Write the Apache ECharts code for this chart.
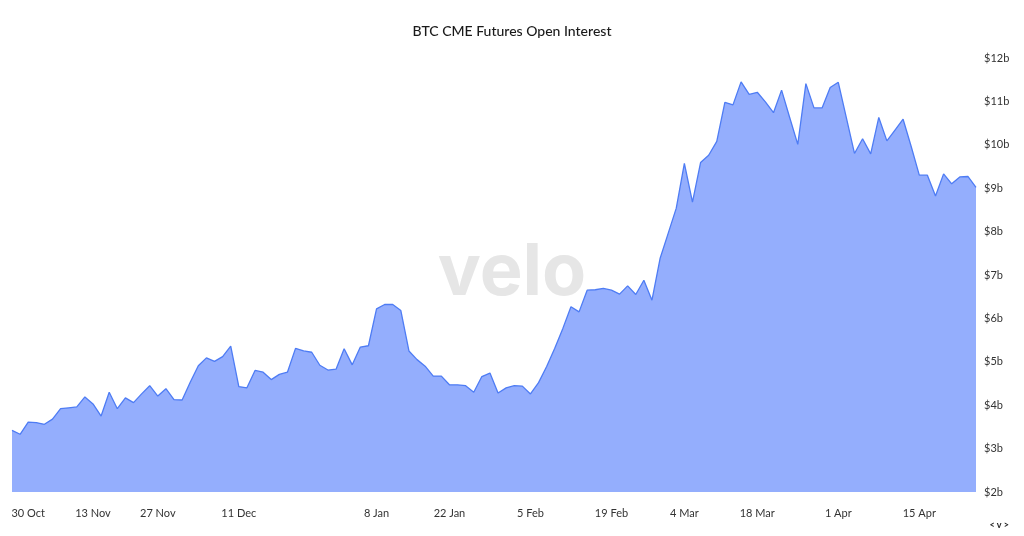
<!DOCTYPE html>
<html>
<head>
<meta charset="utf-8">
<title>BTC CME Futures Open Interest</title>
<script src="https://cdn.jsdelivr.net/npm/echarts@6/dist/echarts.min.js"></script>
<style>
  html, body { margin: 0; padding: 0; background: #fff; }
  #chart { width: 1024px; height: 536px; }
</style>
</head>
<body>
<div id="chart"></div>
<script>
// trading days shown on the x axis
const dates = [
  '26 Oct', '27 Oct', '30 Oct', '31 Oct', '1 Nov', '2 Nov', '3 Nov', '6 Nov', '7 Nov', '8 Nov',
  '13 Nov', '14 Nov', '15 Nov', '16 Nov', '17 Nov', '20 Nov', '21 Nov', '22 Nov', '27 Nov', '28 Nov',
  '29 Nov', '30 Nov', '1 Dec', '4 Dec', '5 Dec', '6 Dec', '7 Dec', '8 Dec', '11 Dec', '12 Dec',
  '13 Dec', '14 Dec', '15 Dec', '18 Dec', '19 Dec', '20 Dec', '21 Dec', '22 Dec', '26 Dec', '27 Dec',
  '28 Dec', '2 Jan', '3 Jan', '4 Jan', '5 Jan', '8 Jan', '9 Jan', '10 Jan', '11 Jan', '12 Jan',
  '16 Jan', '17 Jan', '18 Jan', '19 Jan', '22 Jan', '23 Jan', '24 Jan', '25 Jan', '26 Jan', '29 Jan',
  '30 Jan', '31 Jan', '1 Feb', '2 Feb', '5 Feb', '6 Feb', '7 Feb', '8 Feb', '9 Feb', '12 Feb',
  '13 Feb', '14 Feb', '15 Feb', '16 Feb', '19 Feb', '20 Feb', '21 Feb', '22 Feb', '23 Feb', '26 Feb',
  '27 Feb', '28 Feb', '1 Mar', '4 Mar', '5 Mar', '6 Mar', '7 Mar', '8 Mar', '11 Mar', '12 Mar',
  '13 Mar', '14 Mar', '18 Mar', '19 Mar', '20 Mar', '21 Mar', '22 Mar', '25 Mar', '26 Mar', '27 Mar',
  '28 Mar', '29 Mar', '1 Apr', '2 Apr', '3 Apr', '4 Apr', '5 Apr', '8 Apr', '9 Apr', '10 Apr',
  '11 Apr', '12 Apr', '15 Apr', '16 Apr', '17 Apr', '18 Apr', '19 Apr', '22 Apr', '23 Apr', '24 Apr'
]

// open interest, $ billions
const openInterest = [
  3.42, 3.33, 3.61, 3.60, 3.56, 3.68, 3.92, 3.94, 3.96, 4.19,
  4.03, 3.75, 4.30, 3.92, 4.17, 4.06, 4.26, 4.45, 4.21, 4.38,
  4.13, 4.12, 4.53, 4.91, 5.09, 5.01, 5.12, 5.36, 4.43, 4.40,
  4.80, 4.76, 4.59, 4.71, 4.76, 5.31, 5.25, 5.22, 4.92, 4.81,
  4.83, 5.30, 4.93, 5.34, 5.37, 6.22, 6.32, 6.32, 6.18, 5.25,
  5.05, 4.90, 4.67, 4.67, 4.47, 4.47, 4.45, 4.30, 4.66, 4.74,
  4.28, 4.40, 4.45, 4.44, 4.26, 4.52, 4.89, 5.31, 5.77, 6.27,
  6.15, 6.65, 6.66, 6.69, 6.65, 6.56, 6.75, 6.55, 6.88, 6.42,
  7.38, 7.96, 8.54, 9.57, 8.68, 9.59, 9.76, 10.08, 10.98, 10.92,
  11.45, 11.16, 11.21, 10.99, 10.74, 11.26, 10.63, 10.01, 11.41, 10.85,
  10.85, 11.32, 11.44, 10.62, 9.80, 10.14, 9.79, 10.63, 10.09, 10.34,
  10.59, 9.96, 9.30, 9.30, 8.82, 9.33, 9.10, 9.26, 9.27, 9.02
]

const tickLabels = ['30 Oct', '13 Nov', '27 Nov', '11 Dec', '8 Jan', '22 Jan',
  '5 Feb', '19 Feb', '4 Mar', '18 Mar', '1 Apr', '15 Apr']

const font = 'Lato, "Noto Sans", sans-serif'
const chart = echarts.init(document.getElementById('chart'))

const option = {
  animation: false,
  backgroundColor: '#ffffff',
  title: {
    text: 'BTC CME Futures Open Interest',
    left: 'center',
    top: 19,
    textStyle: { fontFamily: font, fontSize: 14, fontWeight: 500, color: '#1a1a1a' }
  },
  graphic: [
    {
      type: 'text',
      left: 'center',
      top: 237,
      z: -1,
      style: { text: 'velo', fontFamily: 'Inter, Lato, sans-serif', fontSize: 72, fontWeight: 'bold', fill: '#e6e6e6' }
    },
    {
      type: 'text',
      right: 15,
      top: 521,
      style: { text: '< v >', fontFamily: font, fontSize: 9, fontWeight: 'bold', fill: '#222' }
    }
  ],
  grid: { left: 12, right: 48, top: 58, bottom: 44 },
  xAxis: {
    type: 'category',
    data: dates,
    boundaryGap: false,
    axisLine: { show: false },
    axisTick: { show: false },
    splitLine: { show: false },
    axisLabel: {
      margin: 16,
      fontFamily: font,
      fontSize: 11,
      color: '#333',
      interval: (idx, val) => tickLabels.includes(val)
    }
  },
  yAxis: {
    type: 'value',
    position: 'right',
    min: 2,
    max: 12,
    interval: 1,
    axisLine: { show: false },
    axisTick: { show: false },
    splitLine: { show: false },
    axisLabel: {
      margin: 8,
      fontFamily: font,
      fontSize: 11,
      color: '#333',
      formatter: (v) => '$' + v + 'b'
    }
  },
  series: [
    {
      type: 'line',
      data: openInterest,
      symbol: 'none',
      lineStyle: { color: '#4e7cf4', width: 1.3 },
      areaStyle: { color: '#94aefd', opacity: 1 }
    }
  ]
}

chart.setOption(option)
</script>
</body>
</html>
